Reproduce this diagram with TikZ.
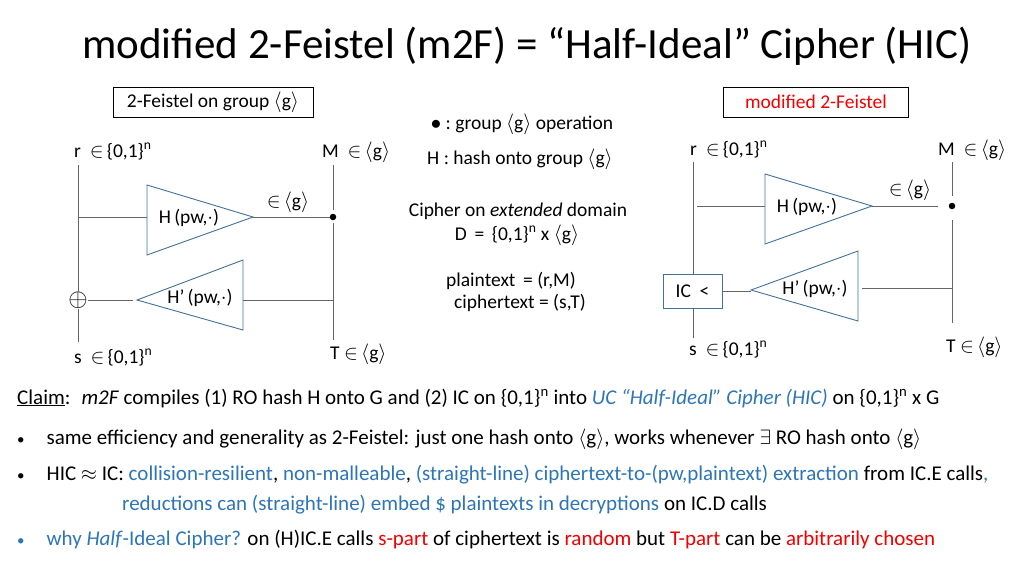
\documentclass[tikz,border=0pt]{standalone}
\usepackage{fontspec}
\setmainfont{Carlito}
\newcommand{\grp}{\ensuremath{\langle\mathrm{g}\rangle}}
\newcommand{\inn}{\ensuremath{\in}\,}
\newcommand{\bul}{{\fontsize{15}{16}\selectfont•}}
\begin{document}
\begin{tikzpicture}[x=1pt,y=-1pt,
  ln/.style={draw=black!60,line width=0.8pt},
  tri/.style={draw=triblue,line width=0.9pt,fill=white},
  lab/.style={font=\fontsize{19.5}{22}\selectfont,inner sep=1pt},
  bl/.style={font=\fontsize{21}{24}\selectfont,anchor=base west,inner sep=0pt}]
\definecolor{triblue}{RGB}{65,113,156}
\definecolor{hblue}{RGB}{46,117,182}
\definecolor{hred}{RGB}{240,0,0}
\useasboundingbox (0,0) rectangle (1024,576);
\node[anchor=base,font=\fontsize{43}{48}\selectfont] (title) at (527,58) {modified 2-Feistel (m2F) = “Half-Ideal” Cipher (HIC)};
% ---------- left diagram
\node[draw,lab,minimum width=200,minimum height=30,inner sep=2pt] (bl1) at (213,102) {2-Feistel on group \grp};
\node[lab,anchor=base west] (lr) at (73,157) {r ~\inn \{0,1\}$^{\mathrm n}$};
\node[lab,anchor=base west] (lM) at (321,157) {M ~\inn\grp};
\node[lab,anchor=base west] (ls) at (73,363) {s ~\inn \{0,1\}$^{\mathrm n}$};
\node[lab,anchor=base west] (lT) at (329,359) {T \inn\grp};
\coordinate (lrtop) at (78,165);
\node[inner sep=0pt,font=\fontsize{24}{26}\selectfont] (lxor) at (78,300) {$\oplus$};
\coordinate (lstop) at (78,342);
\coordinate (lHin) at (78,217);
\draw[tri] (147,185) -- (253,217) -- (147,255) -- cycle;
\node[lab] (lH) at (189,218) {H\,(pw,$\cdot$)};
\coordinate (lHtip) at (253,217);
\node[circle,fill,inner sep=2.3pt] (ldot) at (333,217) {};
\node[lab] (lg) at (288,202) {\inn\grp};
\coordinate (lMbot) at (333,165);
\coordinate (lTtop) at (333,340);
\draw[tri] (137,300) -- (243,260) -- (243,330) -- cycle;
\node[lab] (lHp) at (200,298) {H’\,(pw,$\cdot$)};
\coordinate (lHptip) at (133,300);
\coordinate (lHpr) at (243,300);
\coordinate (lTj) at (333,300);
\draw[ln] (lrtop) -- (lxor.north);
\draw[ln] (lxor.south) -- (lstop);
\draw[ln] (lHin) -- (147,217);
\draw[ln] (lHtip) -- (ldot);
\draw[ln] (lMbot) -- (333,210);
\draw[ln] (333,223) -- (lTtop);
\draw[ln] (lHpr) -- (lTj);
\draw[ln] (lxor.east) -- (lHptip);
% ---------- middle text
\node[lab] (m1) at (522,124) {$\bullet$ :\ group \grp\ operation};
\node[lab] (m2) at (520,159) {H :\ hash onto group \grp};
\node[lab] (m3) at (518,211) {Cipher on \textit{extended} domain};
\node[lab] (m4) at (517,235) {D \,=\, \{0,1\}$^{\mathrm n}$ x \grp};
\node[lab] (m5) at (511,281) {plaintext \,= (r,M)};
\node[lab] (m6) at (520,303) {ciphertext = (s,T)};
% ---------- right diagram
\node[draw,lab,minimum width=185,minimum height=30,inner sep=2pt,text=hred] (br1) at (816,102) {modified 2-Feistel};
\node[lab,anchor=base west] (rr) at (689,155) {r ~\inn \{0,1\}$^{\mathrm n}$};
\node[lab,anchor=base west] (rM) at (937,155) {M ~\inn\grp};
\node[lab,anchor=base west] (rs) at (688,355) {s ~\inn \{0,1\}$^{\mathrm n}$};
\node[lab,anchor=base west] (rT) at (945,352) {T \inn\grp};
\node[draw=triblue,line width=0.9pt,minimum width=59,minimum height=34,lab] (ic) at (692.5,291) {IC\ \ <};
\coordinate (rrtop) at (693,162);
\coordinate (rsbot) at (693,338);
\draw[tri] (765,174) -- (872,206) -- (765,244) -- cycle;
\node[lab] (rH) at (807,207) {H\,(pw,$\cdot$)};
\node[circle,fill,inner sep=2.3pt] (rdot) at (952,206) {};
\node[lab] (rg) at (910,190) {\inn\grp};
\draw[tri] (751,290) -- (858,251) -- (858,321) -- cycle;
\node[lab] (rHp) at (815,289) {H’\,(pw,$\cdot$)};
\draw[ln] (rrtop) -- (ic.north -| rrtop);
\draw[ln] (ic.south -| rsbot) -- (rsbot);
\draw[ln] (697,206) -- (765,206);
\draw[ln] (872,206) -- (938,206);
\draw[ln] (952,162) -- (952,196);
\draw[ln] (952,220) -- (952,323);
\draw[ln] (862,288) -- (952,288);
\draw[ln] (ic.east) -- (751,291);
% ---------- bottom text
\node[bl] (c1) at (17,404) {\underline{Claim}: \ \textit{m2F} compiles (1) RO hash H onto G and (2) IC on \{0,1\}$^{\mathrm n}$ into \textcolor{hblue}{\textit{UC “Half-Ideal” Cipher (HIC)}} on \{0,1\}$^{\mathrm n}$ x G};
\node[bl] (b1) at (17,444) {\bul\hspace{22pt}same efficiency and generality as 2-Feistel: just one hash onto \grp, works whenever $\exists$ RO hash onto \grp};
\node[bl] (b2) at (17,480) {\bul\hspace{22pt}HIC $\approx$ IC: \textcolor{hblue}{collision-resilient}, \textcolor{hblue}{non-malleable}, \textcolor{hblue}{(straight-line) ciphertext-to-(pw,plaintext) extraction} from IC.E calls\textcolor{hblue}{,}};
\node[bl] (b2b) at (122,510) {\textcolor{hblue}{reductions can (straight-line) embed \$ plaintexts in decryptions} on IC.D calls};
\node[bl] (b3) at (17,545) {\textcolor{hblue}{\bul\hspace{22pt}why \textit{Half}-Ideal Cipher?} on (H)IC.E calls \textcolor{hred}{s-part} of ciphertext is \textcolor{hred}{random} but \textcolor{hred}{T-part} can be \textcolor{hred}{arbitrarily chosen}};
\end{tikzpicture}
\end{document}
